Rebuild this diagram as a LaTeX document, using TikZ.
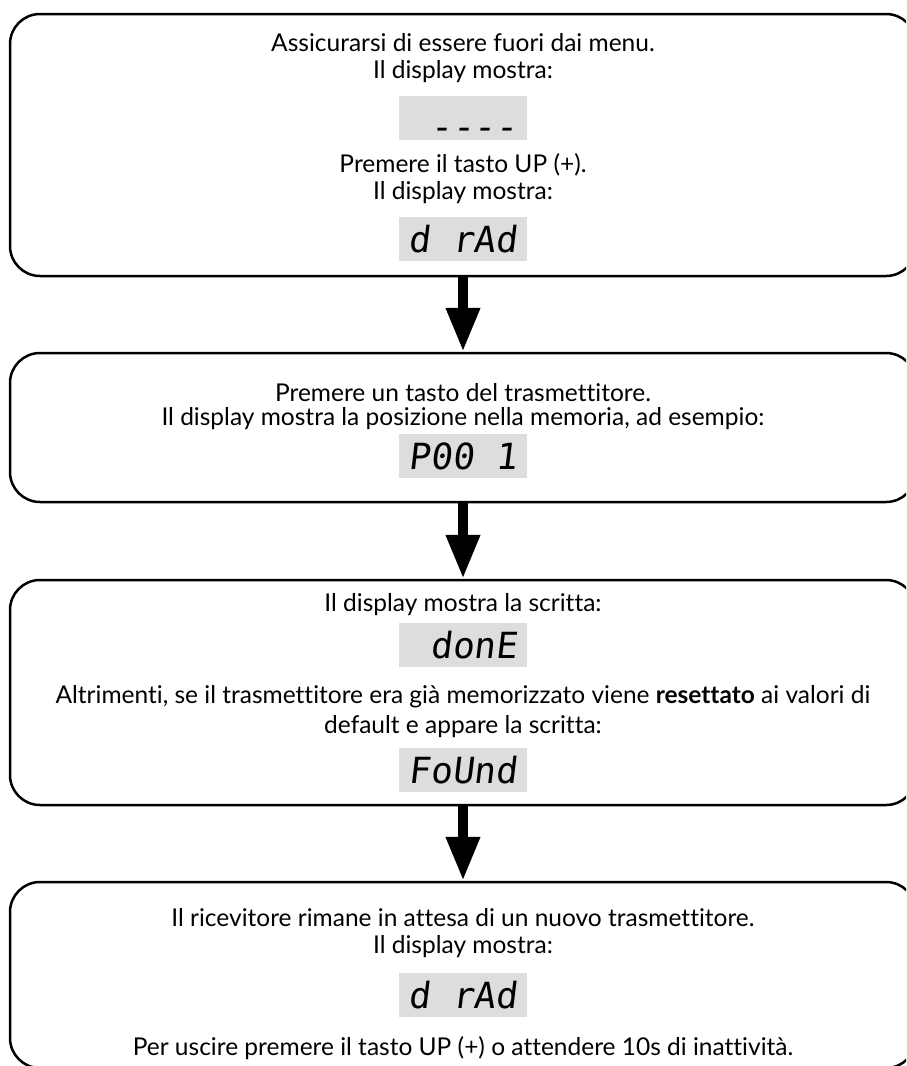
\documentclass[tikz,border=0pt]{standalone}
\usepackage{fontspec}
\setmainfont[Ligatures=NoCommon]{Lato}
\newfontfamily\segfont[FakeSlant=0.12]{DejaVu Sans Mono}
\usetikzlibrary{arrows.meta}
\definecolor{lcdgray}{RGB}{220,221,223}

\begin{document}
\begin{tikzpicture}[x=1pt,y=-1pt,
    box/.style={draw,line width=2.5pt,rounded corners=30pt,minimum width=906pt},
    lcd/.style={fill=lcdgray,minimum width=128pt,minimum height=44pt,inner sep=0pt,font=\segfont\fontsize{36}{36}\selectfont},
    txt/.style={font=\fontsize{24.5}{30}\selectfont,inner sep=0pt,align=center},
    flow/.style={line width=10pt,-{Triangle[length=44pt,width=32pt]}}]
    \clip (0,0) rectangle (906,1066);

    \node (box1) at (463,145) [box,minimum height=262pt]{};
    \node (box2) at (463,427.5) [box,minimum height=149pt]{};
    \node (box3) at (463,692.5) [box,minimum height=225pt]{};
    \node (box4) at (463,975) [box,minimum height=186pt]{};

    \draw[flow] (box1) -- (box2);
    \draw[flow] (box2) -- (box3);
    \draw[flow] (box3) -- (box4);

    % box 1
    \node (t11) at (463,43) [txt]{Assicurarsi di essere fuori dai menu.};
    \node (t12) at (463,72) [txt]{Il display mostra:};
    \node (lcd1) at (463,118) [lcd]{\raisebox{-21pt}[0pt][0pt]{~----}};
    \node (t13) at (463,165) [txt]{Premere il tasto UP (+).};
    \node (t14) at (463,193) [txt]{Il display mostra:};
    \node (lcd2) at (463,239) [lcd]{d~rAd};

    % box 2
    \node (t21) at (463,393) [txt]{Premere un tasto del trasmettitore.};
    \node (t22) at (463,419) [txt]{Il display mostra la posizione nella memoria, ad esempio:};
    \node (lcd3) at (463,456) [lcd]{P00~1};

    % box 3
    \node (t31) at (463,605) [txt]{Il display mostra la scritta:};
    \node (lcd4) at (463,645) [lcd]{~donE};
    \node (t32) at (463,712) [txt]{Altrimenti, se il trasmettitore era già memorizzato viene \textbf{resettato} ai valori di\\default e appare la scritta:};
    \node (lcd5) at (463,770) [lcd]{FoUnd};

    % box 4
    \node (t41) at (463,918) [txt]{Il ricevitore rimane in attesa di un nuovo trasmettitore.};
    \node (t42) at (463,947) [txt]{Il display mostra:};
    \node (lcd6) at (463,995) [lcd]{d~rAd};
    \node (t43) at (463,1048) [txt]{Per uscire premere il tasto UP (+) o attendere 10s di inattività.};
\end{tikzpicture}
\end{document}
